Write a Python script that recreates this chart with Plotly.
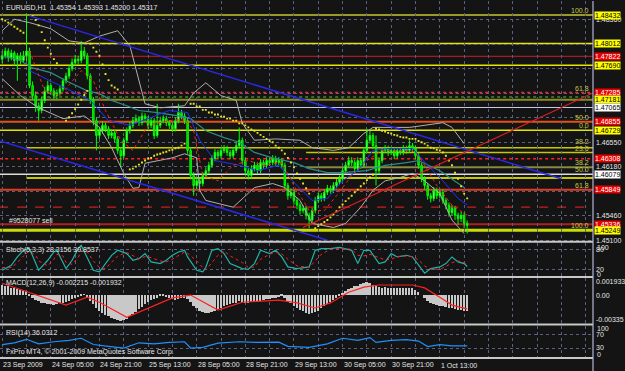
import plotly.graph_objects as go

FONT = "Liberation Sans"
BG = "#141414"
GRID = "#5a6080"

# ---------------- price bars (EURUSD H1) ----------------
closes = [1.4783, 1.4790, 1.4780, 1.4787, 1.4776, 1.4783, 1.4776, 1.4783, 1.4790, 1.4739,
          1.4724, 1.4709, 1.4702, 1.4717, 1.4731, 1.4739, 1.4731, 1.4724, 1.4728, 1.4734,
          1.4746, 1.4753, 1.4764, 1.4773, 1.4778, 1.4776, 1.4790, 1.4783, 1.4753, 1.4717,
          1.4687, 1.4665, 1.4672, 1.4680, 1.4675, 1.4665, 1.4669, 1.4660, 1.4643, 1.4635,
          1.4658, 1.4672, 1.4680, 1.4687, 1.4690, 1.4684, 1.4694, 1.4690, 1.4680, 1.4687,
          1.4665, 1.4680, 1.4687, 1.4690, 1.4684, 1.4680, 1.4675, 1.4687, 1.4699, 1.4694,
          1.4687, 1.4643, 1.4606, 1.4591, 1.4598, 1.4594, 1.4606, 1.4613, 1.4621, 1.4631,
          1.4640, 1.4635, 1.4643, 1.4646, 1.4640, 1.4635, 1.4643, 1.4650, 1.4658, 1.4628,
          1.4613, 1.4606, 1.4616, 1.4621, 1.4613, 1.4625, 1.4621, 1.4628, 1.4625, 1.4631,
          1.4625, 1.4628, 1.4621, 1.4591, 1.4576, 1.4581, 1.4569, 1.4562, 1.4554, 1.4557,
          1.4547, 1.4540, 1.4554, 1.4569, 1.4576, 1.4572, 1.4581, 1.4587, 1.4584, 1.4591,
          1.4596, 1.4601, 1.4613, 1.4621, 1.4628, 1.4625, 1.4616, 1.4628, 1.4621, 1.4643,
          1.4658, 1.4665, 1.4650, 1.4613, 1.4628, 1.4643, 1.4646, 1.4640, 1.4643, 1.4635,
          1.4643, 1.4640, 1.4646, 1.4643, 1.4650, 1.4646, 1.4635, 1.4621, 1.4601, 1.4591,
          1.4576, 1.4572, 1.4584, 1.4576, 1.4581, 1.4569, 1.4562, 1.4551, 1.4557, 1.4547,
          1.4542, 1.4547, 1.45354, 1.45317]
highs = [1.4790, 1.4795, 1.4794, 1.4792, 1.4790, 1.4787, 1.4788, 1.4790, 1.4845, 1.4795,
         1.4745, 1.4730, 1.4714, 1.4722, 1.4737, 1.4746, 1.4743, 1.4735, 1.4733, 1.4739,
         1.4750, 1.4758, 1.4769, 1.4779, 1.4784, 1.4783, 1.4805, 1.4796, 1.4787, 1.4757,
         1.4722, 1.4692, 1.4678, 1.4686, 1.4684, 1.4679, 1.4674, 1.4673, 1.4664, 1.4648,
         1.4662, 1.4677, 1.4685, 1.4692, 1.4696, 1.4694, 1.4699, 1.4698, 1.4694, 1.4692,
         1.4691, 1.4712, 1.4693, 1.4695, 1.4694, 1.4688, 1.4684, 1.4692, 1.4712, 1.4703,
         1.4698, 1.4691, 1.4648, 1.4611, 1.4604, 1.4602, 1.4611, 1.4618, 1.4626, 1.4636,
         1.4645, 1.4644, 1.4648, 1.4651, 1.4650, 1.4644, 1.4648, 1.4655, 1.4677, 1.4662,
         1.4632, 1.4617, 1.4621, 1.4626, 1.4625, 1.4630, 1.4629, 1.4633, 1.4632, 1.4636,
         1.4635, 1.4633, 1.4632, 1.4625, 1.4595, 1.4587, 1.4585, 1.4573, 1.4566, 1.4562,
         1.4561, 1.4551, 1.4558, 1.4574, 1.4581, 1.4580, 1.4586, 1.4592, 1.4591, 1.4596,
         1.4601, 1.4606, 1.4618, 1.4626, 1.4634, 1.4633, 1.4629, 1.4633, 1.4632, 1.4648,
         1.4675, 1.4672, 1.4669, 1.4665, 1.4633, 1.4648, 1.4651, 1.4650, 1.4648, 1.4647,
         1.4648, 1.4647, 1.4651, 1.4650, 1.4658, 1.4654, 1.4650, 1.4639, 1.4625, 1.4605,
         1.4595, 1.4580, 1.4589, 1.4588, 1.4586, 1.4585, 1.4573, 1.4566, 1.4562, 1.4561,
         1.4551, 1.4552, 1.4551, 1.45393]
lows = [1.4772, 1.4779, 1.4774, 1.4776, 1.4768, 1.4746, 1.4770, 1.4772, 1.4775, 1.4735,
        1.4718, 1.4700, 1.4687, 1.4698, 1.4713, 1.4727, 1.4725, 1.4718, 1.4719, 1.4724,
        1.4730, 1.4742, 1.4749, 1.4760, 1.4768, 1.4770, 1.4772, 1.4778, 1.4748, 1.4712,
        1.4680, 1.4643, 1.4660, 1.4668, 1.4670, 1.4660, 1.4661, 1.4655, 1.4638, 1.4618,
        1.4631, 1.4654, 1.4668, 1.4676, 1.4683, 1.4679, 1.4680, 1.4685, 1.4675, 1.4676,
        1.4660, 1.4662, 1.4676, 1.4683, 1.4679, 1.4675, 1.4670, 1.4671, 1.4683, 1.4689,
        1.4682, 1.4638, 1.4600, 1.4576, 1.4586, 1.4588, 1.4590, 1.4602, 1.4609, 1.4617,
        1.4627, 1.4630, 1.4631, 1.4639, 1.4635, 1.4630, 1.4631, 1.4639, 1.4646, 1.4622,
        1.4607, 1.4600, 1.4602, 1.4612, 1.4608, 1.4609, 1.4616, 1.4617, 1.4620, 1.4621,
        1.4620, 1.4621, 1.4616, 1.4586, 1.4570, 1.4572, 1.4563, 1.4556, 1.4548, 1.4550,
        1.4541, 1.4528, 1.4536, 1.4550, 1.4565, 1.4567, 1.4568, 1.4577, 1.4579, 1.4580,
        1.4587, 1.4592, 1.4597, 1.4609, 1.4617, 1.4620, 1.4611, 1.4612, 1.4616, 1.4617,
        1.4639, 1.4653, 1.4645, 1.4591, 1.4608, 1.4624, 1.4639, 1.4635, 1.4636, 1.4630,
        1.4631, 1.4636, 1.4636, 1.4638, 1.4639, 1.4641, 1.4630, 1.4616, 1.4596, 1.4585,
        1.4570, 1.4566, 1.4568, 1.4571, 1.4572, 1.4564, 1.4556, 1.4545, 1.4547, 1.4540,
        1.4533, 1.4537, 1.4528, 1.45200]
first_open = 1.4778

# ---------------- main-window indicators (sampled at bar indices) ----------------
bb_up_bar = [0, 4, 9, 16, 22, 27, 32, 38, 42, 45, 47, 52, 60, 63, 67, 72, 77, 79, 83, 90, 98, 102, 109, 114, 119, 122, 134, 145, 148, 152]
bb_up = [1.4820, 1.4837, 1.4832, 1.4823, 1.4805, 1.4802, 1.4812, 1.4820, 1.4798, 1.4746, 1.4712, 1.4706, 1.4709, 1.4728, 1.4743,
         1.4724, 1.4717, 1.4683, 1.4658, 1.4660, 1.4658, 1.4647, 1.4643, 1.4647, 1.4668, 1.4677, 1.4677, 1.4684, 1.4677, 1.4653]
bb_lo_bar = [0, 6, 12, 20, 27, 32, 36, 40, 43, 45, 47, 51, 56, 60, 64, 65, 67, 76, 83, 89, 93, 98, 102, 109, 113, 118, 122, 126, 131, 135, 139, 144, 148, 152]
bb_lo = [1.4749, 1.4724, 1.4706, 1.4690, 1.4694, 1.4677, 1.4647, 1.4609, 1.4587, 1.4588, 1.4624, 1.4628, 1.4632, 1.4638, 1.4632,
         1.4584, 1.4569, 1.4559, 1.4588, 1.4594, 1.4588, 1.4569, 1.4535, 1.4529, 1.4535, 1.4559, 1.4584, 1.4598, 1.4603, 1.4609,
         1.4598, 1.4579, 1.4540, 1.4520]
ma_teal_bar = [0, 6, 10, 16, 21, 28, 32, 36, 41, 45, 51, 58, 62, 67, 73, 78, 83, 89, 96, 101, 107, 112, 120, 126, 133, 137, 144, 152]
ma_teal = [1.4783, 1.4776, 1.4765, 1.4758, 1.4746, 1.4731, 1.4727, 1.4717, 1.4709, 1.4702, 1.4699, 1.4694, 1.4690, 1.4672,
           1.4662, 1.4655, 1.4640, 1.4632, 1.4625, 1.4616, 1.4610, 1.4610, 1.4613, 1.4621, 1.4625, 1.4628, 1.4613, 1.4588]
ma_blue_bar = [9, 19, 29, 35, 42, 48, 55, 61, 65, 70, 78, 84, 91, 97, 102, 107, 112, 117, 122, 128, 135, 140, 145, 150, 153]
ma_blue = [1.4761, 1.4739, 1.4717, 1.4687, 1.4680, 1.4690, 1.4702, 1.4699, 1.4658, 1.4628, 1.4621, 1.4613, 1.4621, 1.4591,
           1.4569, 1.4572, 1.4598, 1.4613, 1.4643, 1.4646, 1.4646, 1.4621, 1.4598, 1.4572, 1.4562]
ma_red_bar = [9, 14, 19, 26, 30, 34, 39, 43, 48, 55, 60, 63, 66, 71, 76, 81, 86, 92, 96, 101, 106, 110, 115, 120, 125, 130, 135, 138, 143, 148, 153]
ma_red = [1.4790, 1.4731, 1.4724, 1.4761, 1.4746, 1.4702, 1.4658, 1.4643, 1.4680, 1.4687, 1.4690, 1.4672, 1.4606, 1.4598,
          1.4621, 1.4628, 1.4621, 1.4625, 1.4591, 1.4554, 1.4554, 1.4576, 1.4606, 1.4628, 1.4643, 1.4643, 1.4643, 1.4628,
          1.4591, 1.4562, 1.4547]
sar_bar = (list(range(0, 8)) + list(range(10, 19)) + list(range(21, 29)) + list(range(29, 39))
           + list(range(42, 61)) + list(range(62, 102)) + list(range(103, 123)) + list(range(123, 154)))
sar = [1.4837, 1.4835, 1.4832, 1.4829, 1.4826, 1.4823, 1.4820, 1.4817,
       1.4842, 1.4836, 1.4828, 1.4818, 1.4806, 1.4795, 1.4786, 1.4778, 1.4772,
       1.4687, 1.4692, 1.4698, 1.4704, 1.4711, 1.4718, 1.4725, 1.4731,
       1.4801, 1.4795, 1.4789, 1.4783, 1.4770, 1.4756, 1.4747, 1.4739, 1.4736, 1.4733,
       1.4615, 1.4616, 1.4619, 1.4622, 1.4625, 1.4628, 1.4631, 1.4632, 1.4635, 1.4637, 1.4638, 1.4640, 1.4641, 1.4643,
       1.4644, 1.4646, 1.4647, 1.4650, 1.4653,
       1.4712, 1.4712, 1.4708, 1.4708, 1.4703, 1.4703, 1.4699, 1.4699, 1.4696, 1.4696, 1.4693, 1.4693, 1.4690, 1.4690,
       1.4687, 1.4687, 1.4683, 1.4683, 1.4680, 1.4677, 1.4674, 1.4672, 1.4669, 1.4666, 1.4663, 1.4660, 1.4657, 1.4655,
       1.4650, 1.4647, 1.4643, 1.4638, 1.4632, 1.4625, 1.4618, 1.4609, 1.4601, 1.4594, 1.4587, 1.4579,
       1.4528, 1.4531, 1.4534, 1.4537, 1.4540, 1.4544, 1.4548, 1.4553, 1.4559, 1.4563, 1.4568, 1.4572, 1.4576, 1.4581,
       1.4585, 1.4590, 1.4594, 1.4599, 1.4603, 1.4607,
       1.4675, 1.4674, 1.4672, 1.4671, 1.4669, 1.4668, 1.4666, 1.4665, 1.4663, 1.4662, 1.4662, 1.4660, 1.4660, 1.4660,
       1.4657, 1.4655, 1.4653, 1.4650, 1.4647, 1.4646, 1.4644, 1.4643, 1.4640, 1.4635, 1.4628, 1.4621, 1.4610, 1.4601,
       1.4590, 1.4579, 1.4572]

# trend lines: (bar, price) end points
chan_top_bar = [9, 184]
chan_top = [1.4842, 1.4601]
chan_bot_bar = [-0.7, 107]
chan_bot = [1.4657, 1.4510]
up_line_bar = [99, 194.4]
up_line = [1.4529, 1.4728]

# horizontal objects (price, first bar)
hl_price = [1.48432, 1.48012, 1.47822, 1.47690, 1.47285, 1.4722, 1.47181, 1.47065, 1.46855, 1.46729,
            1.4647, 1.4640, 1.46308, 1.4618, 1.46079, 1.4602, 1.45849, 1.4559, 1.45336, 1.45249]
hl_start = [-1, -1, -1, -1, -1, -1, -1, -1, -1, -1, 8, 100, -1, 100, -1, 8, -1, -1, -1, -1]

# right-hand price labels
lbl_price = [1.48432, 1.48012, 1.47822, 1.47690, 1.47285, 1.47181, 1.47065, 1.46855, 1.46729,
             1.46308, 1.46079, 1.45849, 1.45336, 1.45249]
lbl_kind = ["y", "y", "r", "y", "r", "y", "w", "r", "y", "r", "w", "r", "r", "y"]

fib_price = [1.48432, 1.47285, 1.46855, 1.46729, 1.4647, 1.4640, 1.4618, 1.46079, 1.45849, 1.45249]
fib_text = ["100.0", "61.8", "50.0", "0.0", "38.2", "23.6", "38.2", "50.0", "61.8", "100.0"]
fib_nudge = [0, 0, 0, 0, 2, -1, 0, 0, 0, 0]

# price-scale grid (labels that sit under the coloured object labels are left blank)
grid_prices = [1.45100, 1.45462, 1.45824, 1.46187, 1.46549, 1.46911, 1.47273, 1.47636, 1.47998, 1.48360]
grid_text = ["1.45100", "1.45460", "", "1.46180", "1.46550", "", "", "", "", "1.48360"]

date_bars = [0, 16, 32, 48, 64, 80, 96, 112, 128, 144]
date_text = ["23 Sep 2009", "24 Sep 05:00", "24 Sep 21:00", "25 Sep 13:00", "28 Sep 05:00",
             "28 Sep 21:00", "29 Sep 13:00", "30 Sep 05:00", "30 Sep 21:00", "1 Oct 13:00"]

# ---------------- sub-window indicators ----------------
stoch_bar = [0, 3, 5, 7, 9, 11, 12, 15, 17, 18, 20, 21, 23, 25, 26, 28, 30, 32, 34, 36, 38, 41, 43, 45, 47, 49,
             52, 54, 56, 58, 60, 61, 64, 66, 67, 69, 71, 73, 75, 79, 81, 83, 85, 88, 90, 92, 94, 97, 101, 103,
             105, 108, 111, 115, 117, 119, 121, 124, 126, 128, 130, 133, 135, 137, 139, 141, 144, 146, 148, 150, 152, 153]
stoch_main = [17, 32, 57, 77, 82, 37, 17, 47, 72, 77, 37, 22, 47, 82, 92, 52, 17, 12, 37, 62, 77, 67, 47, 52, 67, 42,
              37, 47, 62, 72, 77, 57, 17, 12, 26, 77, 82, 67, 37, 22, 20, 37, 77, 67, 77, 57, 27, 22, 27, 77,
              82, 82, 86, 77, 37, 77, 77, 37, 42, 67, 57, 62, 57, 32, 8, 22, 27, 37, 57, 42, 37, 28.3156]
stoch_sig = [25, 25, 40, 60, 75, 62, 45, 30, 50, 65, 60, 40, 35, 55, 75, 72, 45, 25, 22, 40, 60, 70, 62, 52, 58, 55,
             45, 42, 50, 62, 72, 68, 45, 25, 18, 40, 62, 75, 60, 40, 25, 27, 50, 65, 72, 66, 50, 30, 25, 45,
             65, 80, 83, 80, 62, 60, 65, 55, 48, 50, 58, 60, 58, 48, 30, 20, 20, 28, 40, 45, 40, 30.8537]

macd_hist = [0.0014, 0.0013, 0.0012, 0.0010, 0.0009, 0.0008, 0.0007, 0.0006, 0.0005,
             -0.0002, -0.0004, -0.0007, -0.0009, -0.0011, -0.0012, -0.0013, -0.0013, -0.0014,
             -0.0013, -0.0012, -0.0011, -0.0010, -0.0008, -0.0006, -0.0004, -0.0003, -0.0002, 0.0001,
             -0.0003, -0.0008, -0.0013, -0.0018, -0.0022, -0.0025, -0.0028, -0.0030, -0.0032, -0.0034, -0.0035, -0.0036, -0.0035, -0.0033,
             -0.0030, -0.0027, -0.0024, -0.0020, -0.0017, -0.0013, -0.0010, -0.0007, -0.0006,
             -0.0004, -0.0002, -0.0001,
             -0.0003, -0.0005, -0.0006, -0.0007, -0.0006, -0.0005, -0.0005, -0.0006, -0.0010,
             -0.0015, -0.0019, -0.0022, -0.0024, -0.0025, -0.0025, -0.0024, -0.0022,
             -0.0020, -0.0018, -0.0016, -0.0014, -0.0013, -0.0012, -0.0011, -0.0009,
             -0.0010, -0.0011, -0.0011, -0.0010, -0.0009, -0.0008, -0.0008, -0.0007, -0.0006, -0.0006, -0.0005, -0.0004,
             -0.0003, -0.0002, -0.0004, -0.0008,
             -0.0012, -0.0015, -0.0018, -0.0021, -0.0023, -0.0025, -0.0027, -0.0026, -0.0024, -0.0022,
             -0.0019, -0.0016, -0.0013, -0.0010, -0.0007, -0.0004, -0.0001, 0.0002,
             0.0005, 0.0008, 0.0010, 0.0012, 0.0013, 0.0015, 0.0016, 0.0018,
             0.0017, 0.0014, 0.0012, 0.0011,
             0.0010, 0.0011, 0.0010, 0.0010, 0.0009, 0.0010, 0.0009, 0.0009, 0.0010, 0.0010, 0.0009, 0.0007,
             0.0004, 0.0000, -0.0004, -0.0008, -0.0011, -0.0013, -0.0014, -0.0015, -0.0016, -0.0017, -0.0018,
             -0.0019, -0.0020, -0.0021, -0.0021, -0.0022, -0.002215]
macd_sig_bar = [0, 21, 28, 32, 41, 48, 56, 62, 65, 71, 79, 91, 97, 103, 108, 114, 119, 124, 135, 139, 144, 148, 153]
macd_sig = [0.00165, -0.0014, -0.0003, -0.0010, -0.0031, -0.0018, -0.0004, 0.0000, -0.0007, -0.0021, -0.0010, -0.0007,
            -0.0011, -0.0018, -0.0011, 0.0004, 0.0011, 0.0014, 0.0014, 0.0010, -0.0003, -0.0014, -0.001932]

rsi_bar = [0, 4, 8, 12, 17, 22, 26, 30, 35, 40, 45, 50, 55, 60, 62, 66, 71, 78, 84, 91, 94, 101, 107, 112, 117, 121,
           123, 128, 133, 137, 140, 144, 148, 153]
rsi = [40, 45, 55, 42, 48, 52, 58, 40, 35, 30, 45, 42, 46, 48, 30, 32, 44, 48, 46, 47, 35, 32, 42, 58, 52, 60,
       46, 52, 54, 50, 34, 40, 36, 36.0312]

# ---------------- figure ----------------
bars = list(range(len(closes)))
opens = [first_open] + closes[:-1]
XR = [-0.72, 194.4]

fig = go.Figure()

fig.add_trace(go.Candlestick(
    x=bars, open=opens, high=highs, low=lows, close=closes,
    increasing=dict(line=dict(color="#00ff00", width=1), fillcolor="#b4ffb4"),
    decreasing=dict(line=dict(color="#00ff00", width=1), fillcolor="#00c000"),
    whiskerwidth=0, xaxis="x", yaxis="y", hoverinfo="skip"))

def line(xs, ys, color, width=1, dash="solid", xa="x", ya="y"):
    fig.add_trace(go.Scatter(x=xs, y=ys, mode="lines", line=dict(color=color, width=width, dash=dash),
                             xaxis=xa, yaxis=ya, hoverinfo="skip"))

line(bb_up_bar, bb_up, "#b0b0b0")
line(bb_lo_bar, bb_lo, "#b0b0b0")
line(ma_teal_bar, ma_teal, "#2e8b8b", 1.2)
line(ma_blue_bar, ma_blue, "#2030ff", 1)
line(ma_red_bar, ma_red, "#ff2020", 1, "dot")
fig.add_trace(go.Scatter(x=sar_bar, y=sar, mode="markers",
                         marker=dict(color="#e6e628", size=1.9, symbol="square", line=dict(width=0)),
                         xaxis="x", yaxis="y", hoverinfo="skip"))
line(chan_top_bar, chan_top, "#2828e6", 1.5)
line(chan_bot_bar, chan_bot, "#2828e6", 1.5)
line(up_line_bar, up_line, "#dc2020", 1.2)

# stochastic
line(stoch_bar, stoch_main, "#20b2aa", 1.2, xa="x2", ya="y2")
line(stoch_bar, stoch_sig, "#ff2020", 1, "dot", xa="x2", ya="y2")
# MACD
fig.add_trace(go.Bar(x=bars, y=macd_hist, marker=dict(color="#c8c8c8", line=dict(width=0)), width=0.62,
                     xaxis="x3", yaxis="y3", hoverinfo="skip"))
line(macd_sig_bar, macd_sig, "#ff2020", 1.2, xa="x3", ya="y3")
# RSI
line(rsi_bar, rsi, "#1e90ff", 1.2, xa="x4", ya="y4")

# ---------------- axes ----------------
xcommon = dict(range=XR, showgrid=True, gridcolor=GRID, griddash="3px,3px", gridwidth=1,
               tickmode="linear", tick0=0, dtick=8, showticklabels=False, ticks="",
               zeroline=False, showline=False, fixedrange=True)
tickfont = dict(family=FONT, size=7, color="#e6e6e6")
fig.update_layout(
    xaxis=dict(xcommon, anchor="y", domain=[0, 1], rangeslider=dict(visible=False)),
    xaxis2=dict(xcommon, anchor="y2", domain=[0, 1]),
    xaxis3=dict(xcommon, anchor="y3", domain=[0, 1]),
    xaxis4=dict(xcommon, anchor="y4", domain=[0, 1]),
    yaxis=dict(domain=[0.3268, 1.0], range=[1.45085, 1.4864], side="right", anchor="x",
               tickvals=grid_prices, ticktext=grid_text, showgrid=True, gridcolor=GRID, griddash="3px,3px",
               zeroline=False, ticks="", tickfont=tickfont, ticklabelstandoff=2),
    yaxis2=dict(domain=[0.2291, 0.3212], range=[-1, 98], side="right", anchor="x2",
                tickvals=[80, 20], ticktext=["80", "20"], showgrid=True, gridcolor=GRID, griddash="3px,3px",
                zeroline=False, ticks="", tickfont=tickfont, ticklabelstandoff=2),
    yaxis3=dict(domain=[0.0978, 0.2235], range=[-0.00391, 0.00235], side="right", anchor="x3",
                tickvals=[0.001933, 0, -0.00335], ticktext=["0.001933", "0.00", "-0.00335"], showgrid=False,
                zeroline=False, ticks="", tickfont=tickfont, ticklabelstandoff=2),
    yaxis4=dict(domain=[0.0, 0.0894], range=[1.4, 92.9], side="right", anchor="x4",
                tickvals=[70, 30], ticktext=["70", "30"], showgrid=True, gridcolor=GRID, griddash="3px,3px",
                zeroline=False, ticks="", tickfont=tickfont, ticklabelstandoff=2),
)

# ---------------- shapes ----------------
shapes = []
hl_style = [("#9a9a28", 2, "solid"), ("#e6e600", 1.5, "solid"), ("#c81e1e", 1, "solid"), ("#e6e600", 1.5, "solid"),
            ("#ff2020", 1.5, "dot"), ("#3c8c28", 1.5, "dot"), ("#8c8c28", 2, "solid"), ("#c8c8e6", 1.2, "solid"),
            ("#e65014", 2, "solid"), ("#e6e600", 1.5, "solid"), ("#c8c800", 1.5, "solid"), ("#c8c800", 1.5, "solid"),
            ("#ff2020", 1.5, "dot"), ("#8c8c28", 2, "solid"), ("#dcdcdc", 1.5, "solid"), ("#c8c800", 2, "solid"),
            ("#e63c1e", 2, "solid"), ("#c81e1e", 1.2, "dash"), ("#b41e1e", 2, "solid"), ("#c8dc00", 3, "solid")]
for p, s, (c, w, d) in zip(hl_price, hl_start, hl_style):
    shapes.append(dict(type="line", xref="x", yref="y", x0=s, x1=XR[1], y0=p, y1=p,
                       line=dict(color=c, width=w, dash=d), layer="below"))
for yp in [0.3254, 0.2268, 0.0936, 0.0]:
    shapes.append(dict(type="line", xref="paper", yref="paper", x0=0, x1=1, y0=yp, y1=yp,
                       line=dict(color="#c8c8c8", width=2)))
shapes.append(dict(type="line", xref="paper", yref="paper", x0=1, x1=1, y0=-0.04, y1=1,
                   line=dict(color="#b4b4d8", width=1.2)))
fig.update_layout(shapes=shapes)

# ---------------- annotations ----------------
ann = []
kind_style = {"y": ("#ffff00", "#000000"), "r": ("#e60000", "#ffffff"), "w": ("#ffffff", "#000000")}
for p, k in zip(lbl_price, lbl_kind):
    bg, fg = kind_style[k]
    ann.append(dict(x=1, xref="paper", y=p, yref="y", xanchor="left", yanchor="middle", xshift=1,
                    text=f"{p:.5f}", showarrow=False, bgcolor=bg, borderpad=0,
                    font=dict(family=FONT, size=7, color=fg)))
for p, t, n in zip(fib_price, fib_text, fib_nudge):
    ann.append(dict(x=0.9966, xref="paper", y=p, yref="y", xanchor="right", yanchor="bottom",
                    text=t, showarrow=False, font=dict(family=FONT, size=7, color="#c8c850"), yshift=-1 + n))

def ptext(xpx, ypx, t):
    ann.append(dict(x=xpx / 597, xref="paper", y=(358 - ypx) / 358, yref="paper", xanchor="left",
                    yanchor="middle", text=t, showarrow=False, font=dict(family=FONT, size=7, color="#e6e6e6")))

ptext(4, 7, "EURUSD,H1  1.45354 1.45393 1.45200 1.45317")
ptext(7, 220, "#9528077 sell")
ptext(4, 250, "Stoch(5,3,3) 28.3156 30.8537")
ptext(4, 283, "MACD(12,26,9) -0.002215 -0.001932")
ptext(4, 333, "RSI(14) 36.0312")
ptext(4, 352, "FxPro MT4, © 2001-2009 MetaQuotes Software Corp.")

for xs, ypx, t in [(1.0, 247, "100"), (1.0, 274, "0"), (1.0, 328, "100"), (1.0, 354, "0")]:
    ann.append(dict(x=xs, xref="paper", y=(358 - ypx) / 358, yref="paper", xanchor="left", yanchor="middle",
                    xshift=2, text=t, showarrow=False, font=dict(family=FONT, size=7, color="#e6e6e6")))

for b, t in zip(date_bars, date_text):
    ann.append(dict(x=b, xref="x4", y=-0.021, yref="paper", xanchor="left", yanchor="middle", xshift=-1,
                    text=t, showarrow=False, font=dict(family=FONT, size=7, color="#e6e6e6")))

fig.update_layout(
    annotations=ann,
    width=625, height=371,
    margin=dict(l=0, r=28, t=0, b=13, pad=0),
    paper_bgcolor=BG, plot_bgcolor=BG,
    showlegend=False, bargap=0,
    font=dict(family=FONT, size=7, color="#e6e6e6"),
)

fig.write_html("out.html")
